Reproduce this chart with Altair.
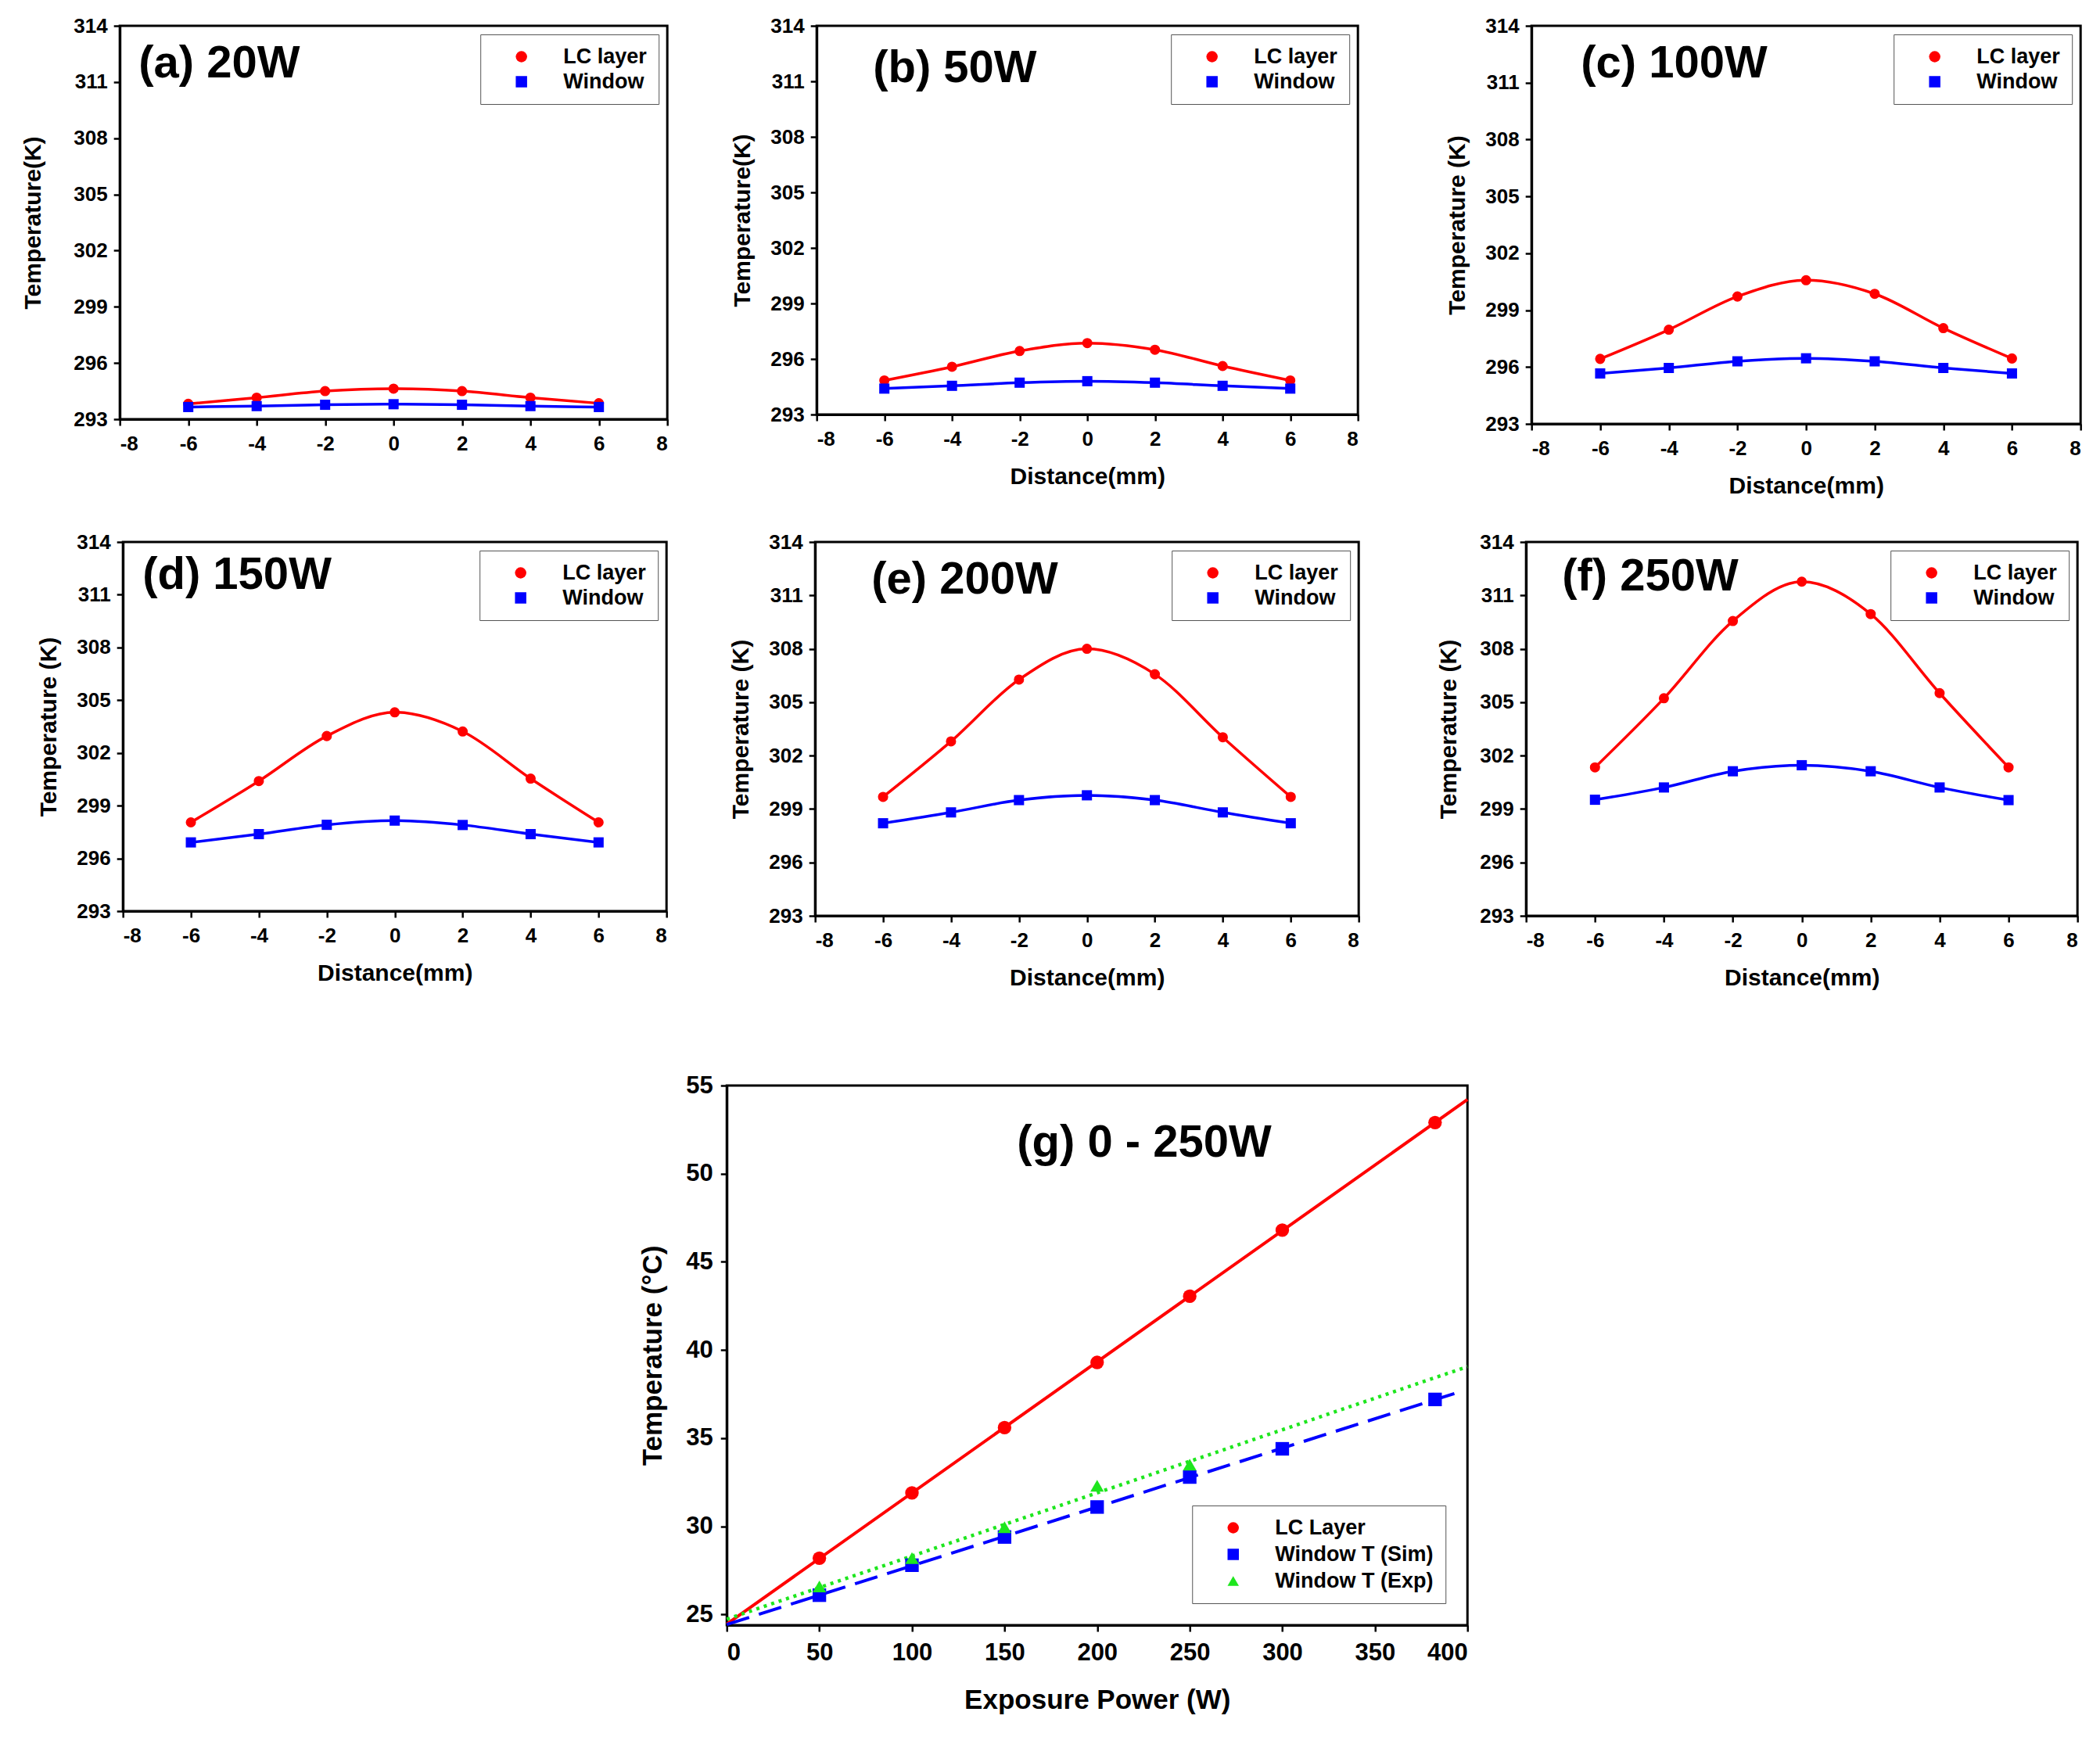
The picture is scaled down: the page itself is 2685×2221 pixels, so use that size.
import altair as alt
import pandas as pd

# ---------------- data ----------------
distance = [-6, -4, -2, 0, 2, 4, 6]

a_lc = [293.82, 294.15, 294.5, 294.63, 294.5, 294.15, 293.85]
a_win = [293.65, 293.7, 293.77, 293.8, 293.77, 293.7, 293.65]
b_lc = [294.84, 295.58, 296.43, 296.86, 296.5, 295.62, 294.84]
b_win = [294.4, 294.55, 294.72, 294.8, 294.72, 294.55, 294.4]
c_lc = [296.43, 297.97, 299.72, 300.58, 299.86, 298.05, 296.45]
c_win = [295.66, 295.95, 296.3, 296.46, 296.3, 295.95, 295.66]
d_lc = [298.05, 300.4, 302.96, 304.31, 303.22, 300.54, 298.05]
d_win = [296.91, 297.38, 297.91, 298.15, 297.9, 297.38, 296.91]
e_lc = [299.68, 302.8, 306.27, 308.0, 306.57, 303.03, 299.68]
e_win = [298.2, 298.81, 299.5, 299.77, 299.5, 298.81, 298.2]
f_lc = [301.34, 305.22, 309.56, 311.77, 309.95, 305.51, 301.34]
f_win = [299.52, 300.21, 301.12, 301.46, 301.12, 300.21, 299.5]

series_names = ["LC layer", "Window"]
x_ticks = [-8, -6, -4, -2, 0, 2, 4, 6, 8]
y_ticks = [293, 296, 299, 302, 305, 308, 311, 314]

g_power = [50, 100, 150, 200, 250, 300, 382.5]
g_lc = [28.2, 31.9, 35.6, 39.3, 43.05, 46.8, 52.9]
g_sim = [26.1, 27.8, 29.4, 31.1, 32.8, 34.4, 37.2]
g_power_exp = [50, 100, 150, 200, 250]
g_exp = [26.6, 28.2, 29.95, 32.3, 33.5]
g_series = ["LC Layer", "Window T (Sim)", "Window T (Exp)"]
g_x_ticks = [0, 50, 100, 150, 200, 250, 300, 350, 400]
g_y_ticks = [25, 30, 35, 40, 45, 50, 55]

RED = "#ff0000"
BLUE = "#0000ff"
GREEN = "#1ee61e"
FONT = "Liberation Sans"
HYPHEN = "'' + datum.value"


def legend(orient, offset, row_pad=4):
    return alt.Legend(
        title=None, orient=orient, offset=offset,
        strokeColor="#555555", fillColor="white", padding=15,
        labelFont=FONT, labelFontSize=27, labelFontWeight="bold", labelColor="black",
        labelLimit=500, symbolSize=210, symbolOffset=24, labelOffset=40, rowPadding=row_pad,
        symbolStrokeWidth=0,
    )


def panel(title, lc, win, ytitle, xtitle, width, height, tdx, tdy, ytp, left_extra=0):
    df = pd.DataFrame({
        "Distance": distance * 2,
        "T": lc + win,
        "Series": [series_names[0]] * len(lc) + [series_names[1]] * len(win),
    })
    if xtitle is None:
        xax = alt.Axis(values=x_ticks, title=None, labelPadding=10, labelExpr=HYPHEN)
    else:
        xax = alt.Axis(values=x_ticks, title=xtitle, labelPadding=10, titlePadding=20, labelExpr=HYPHEN)
    x = alt.X("Distance:Q", scale=alt.Scale(domain=[-8, 8], nice=False, zero=False), axis=xax)
    y = alt.Y("T:Q", scale=alt.Scale(domain=[293, 314], nice=False, zero=False),
              axis=alt.Axis(values=y_ticks, title=ytitle, labelPadding=8, titlePadding=ytp))
    base = alt.Chart(df)
    l1 = base.transform_filter(alt.datum.Series == series_names[0]).mark_line(
        color=RED, strokeWidth=3.5, interpolate="monotone").encode(x=x, y=y)
    l2 = base.transform_filter(alt.datum.Series == series_names[1]).mark_line(
        color=BLUE, strokeWidth=3.5, interpolate="monotone").encode(x=x, y=y)
    lg = legend("top-right", 11)
    pts = base.mark_point(filled=True, size=170, opacity=1).encode(
        x=x, y=y,
        color=alt.Color("Series:N", scale=alt.Scale(domain=series_names, range=[RED, BLUE]), legend=lg),
        shape=alt.Shape("Series:N", scale=alt.Scale(domain=series_names, range=["circle", "square"]), legend=lg),
    )
    txt = alt.Chart(pd.DataFrame({"t": [title]})).mark_text(
        align="left", baseline="alphabetic", font=FONT, fontSize=58, fontWeight="bold", color="black"
    ).encode(text="t:N", x=alt.value(tdx), y=alt.value(tdy))
    layers = [l1, l2, pts, txt]
    if left_extra:
        # invisible anchor that widens the panel's left bounds (layout only)
        pad = alt.Chart(pd.DataFrame({"t": [title]})).mark_point(size=100, opacity=0).encode(
            x=alt.value(-left_extra), y=alt.value(height / 2))
        layers.append(pad)
    return alt.layer(*layers).properties(width=width, height=height).resolve_scale(
        color="independent", shape="independent")


pa = panel("(a) 20W", a_lc, a_win, "Temperature(K)", None, 700, 503, 24, 66, 36)
pb = panel("(b) 50W", b_lc, b_win, "Temperature(K)", "Distance(mm)", 692, 497, 72, 72, 20)
pc = panel("(c) 100W", c_lc, c_win, "Temperature (K)", "Distance(mm)", 702, 509, 63, 66, 20)
pd_ = panel("(d) 150W", d_lc, d_win, "Temperature (K)", "Distance(mm)", 695, 472, 25, 60, 20, left_extra=122)
pe = panel("(e) 200W", e_lc, e_win, "Temperature (K)", "Distance(mm)", 695, 478, 72, 66, 20)
pf = panel("(f) 250W", f_lc, f_win, "Temperature (K)", "Distance(mm)", 705, 478, 46, 62, 24)

# ---------------- panel (g) ----------------
dfg = pd.DataFrame({
    "Power": g_power + g_power + g_power_exp,
    "T": g_lc + g_sim + g_exp,
    "Series": [g_series[0]] * len(g_lc) + [g_series[1]] * len(g_sim) + [g_series[2]] * len(g_exp),
})
gx = alt.X("Power:Q", scale=alt.Scale(domain=[0, 400], nice=False, zero=False),
           axis=alt.Axis(values=g_x_ticks, title="Exposure Power (W)", labelPadding=12, titlePadding=28,
                         labelFontSize=31, titleFontSize=35))
gy = alt.Y("T:Q", scale=alt.Scale(domain=[24.4, 55], nice=False, zero=False),
           axis=alt.Axis(values=g_y_ticks, title="Temperature (°C)", labelPadding=10, titlePadding=24,
                         labelFontSize=31, titleFontSize=35))
gbase = alt.Chart(dfg)
gl1 = gbase.transform_filter(alt.datum.Series == g_series[0]).transform_regression(
    "Power", "T", extent=[0, 400]).mark_line(color=RED, strokeWidth=4).encode(x=gx, y=gy)
gl2 = gbase.transform_filter(alt.datum.Series == g_series[1]).transform_regression(
    "Power", "T", extent=[0, 396]).mark_line(color=BLUE, strokeWidth=4, strokeDash=[30, 13]).encode(x=gx, y=gy)
gl3 = gbase.transform_filter(alt.datum.Series == g_series[2]).transform_regression(
    "Power", "T", extent=[0, 400]).mark_line(color=GREEN, strokeWidth=4.5, strokeDash=[4, 6]).encode(x=gx, y=gy)
glg = legend("bottom-right", 28, row_pad=6)
gpts = gbase.mark_point(filled=True, size=300, opacity=1).encode(
    x=gx, y=gy,
    color=alt.Color("Series:N", scale=alt.Scale(domain=g_series, range=[RED, BLUE, GREEN]), legend=glg),
    shape=alt.Shape("Series:N", scale=alt.Scale(domain=g_series, range=["circle", "square", "triangle-up"]),
                    legend=glg),
)
gtxt = alt.Chart(pd.DataFrame({"t": ["(g) 0 - 250W"]})).mark_text(
    align="left", baseline="alphabetic", font=FONT, fontSize=58, fontWeight="bold", color="black"
).encode(text="t:N", x=alt.value(371), y=alt.value(91))
pg = alt.layer(gl1, gl2, gl3, gpts, gtxt).properties(width=947, height=690).resolve_scale(
    color="independent", shape="independent")

RES = dict(color="independent", shape="independent", x="independent", y="independent")


def hc(*charts, spacing):
    return alt.hconcat(*charts, spacing=spacing).resolve_scale(**RES)


row1 = hc(hc(pa, pb, spacing=77), pc, spacing=108)
row2 = hc(hc(pd_, pe, spacing=76), pf, spacing=96)
top = alt.vconcat(row1, row2, spacing=40, center=True).resolve_scale(**RES)

chart = alt.vconcat(top, pg, spacing=103, center=True).resolve_scale(**RES).properties(
    padding={"left": 18, "top": 10, "right": 2, "bottom": 5}
).configure(font=FONT, background="white").configure_view(
    stroke="black", strokeWidth=3
).configure_axis(
    grid=False, domainColor="black", domainWidth=3, tickColor="black", tickWidth=2.5, tickSize=8,
    labelFont=FONT, labelFontSize=26, labelFontWeight="bold", labelColor="black",
    titleFont=FONT, titleFontSize=30, titleFontWeight="bold", titleColor="black",
)

chart.save("out.html", embed_options={"renderer": "svg", "actions": False})
